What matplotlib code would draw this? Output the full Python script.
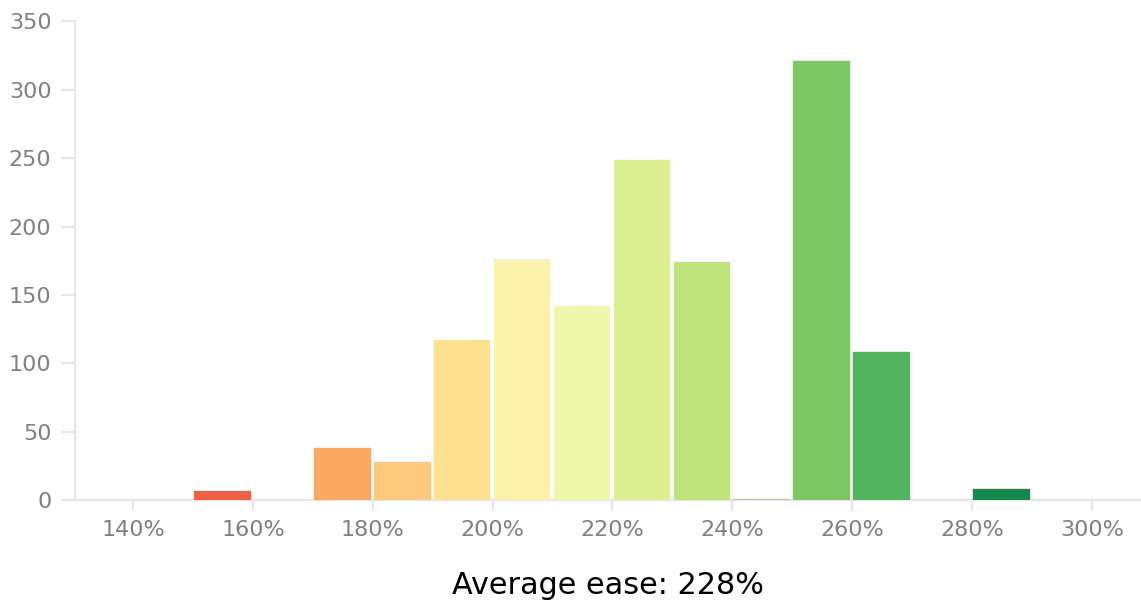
import matplotlib
matplotlib.use("Agg")
import matplotlib.pyplot as plt

# Data
bin_starts = [150, 170, 180, 190, 200, 210, 220, 230, 240, 250, 260, 280]
counts = [7, 38, 28, 117, 176, 142, 249, 174, 1, 321, 108, 8]
bar_colors = ["#ef6140", "#fba862", "#fdc97c", "#fee18f", "#faf3a9", "#eef8ab",
              "#dcef91", "#c0e47c", "#a9da7a", "#7ec765", "#52b45d", "#14894a"]
bin_width = 10
x_ticks = [140, 160, 180, 200, 220, 240, 260, 280, 300]
x_tick_labels = [f"{t}%" for t in x_ticks]
y_ticks = [0, 50, 100, 150, 200, 250, 300, 350]
title = "Average ease: 228%"

W, H = 1141, 604
fig = plt.figure(figsize=(W / 100, H / 100), dpi=100)
ax = fig.add_axes([75 / W, 1 - 500.3 / H, (W - 75) / W + 0.002, (500.3 - 21.3) / H])

bars = ax.bar([b + 0.2 for b in bin_starts], counts, width=bin_width - 0.72, align="edge",
              color=bar_colors, edgecolor=bar_colors, linewidth=1.0, zorder=3)
for p in bars:
    p.set_joinstyle("round")

ax.set_xlim(130.3, 308.6)
ax.set_ylim(0, 350)

grey = "#e6e6e6"
for s in ["top", "right"]:
    ax.spines[s].set_visible(False)
for s in ["left", "bottom"]:
    ax.spines[s].set_color(grey)
    ax.spines[s].set_linewidth(1.5)

ax.set_xticks(x_ticks)
ax.set_xticklabels(x_tick_labels)
ax.set_yticks(y_ticks)
ax.tick_params(axis="x", length=8, width=1.5, color=grey, labelcolor="#808080",
               labelsize=16, pad=6)
ax.tick_params(axis="y", length=10, width=1.5, color=grey, labelcolor="#808080",
               labelsize=16, pad=7)

fig.text(608 / W, 1 - 585 / H, title, ha="center", va="center", fontsize=21.8,
         color="black")

fig.savefig("out.png", dpi=100)
